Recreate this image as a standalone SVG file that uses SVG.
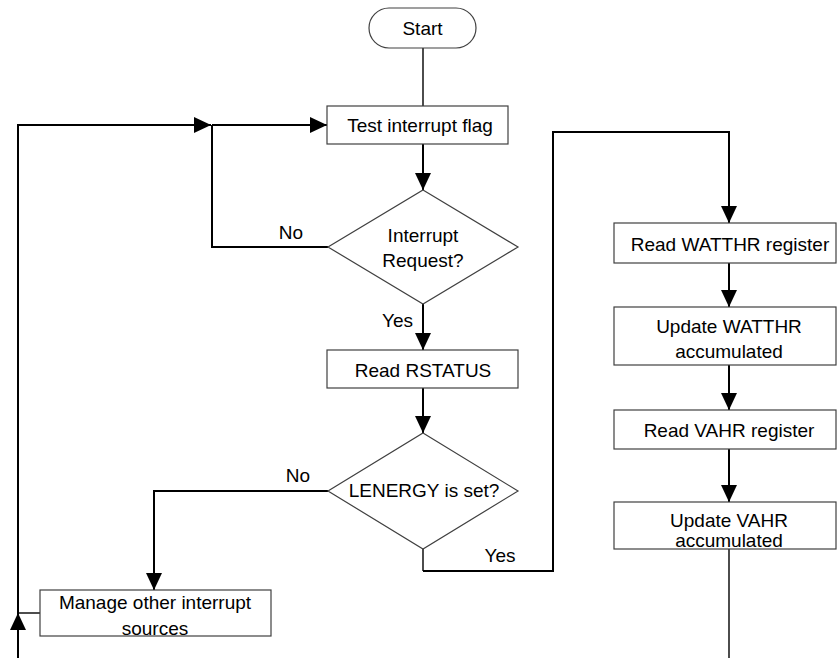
<svg xmlns="http://www.w3.org/2000/svg" width="837" height="658" viewBox="0 0 837 658">
<style>
.box{fill:#fff;stroke:#404040;stroke-width:1.2}
.t{font-family:"Liberation Sans",Arial,sans-serif;font-size:19px;fill:#000;text-anchor:middle}
.lbl{font-family:"Liberation Sans",Arial,sans-serif;font-size:19px;fill:#000}
.c{fill:none;stroke:#000;stroke-width:2}
.thin{fill:none;stroke:#000;stroke-width:1.4}
</style>
<defs>
<marker id="ah" markerUnits="userSpaceOnUse" markerWidth="18" markerHeight="18" viewBox="0 0 18 18" refX="17" refY="8" orient="auto">
<path d="M0,0 L17,8 L0,16 Z" fill="#000"/>
</marker>
</defs>
<rect width="837" height="658" fill="#fff"/>
<g id="connectors">
<path class="thin" d="M423,48 V106"/>
<path class="c" d="M423,144 V190" marker-end="url(#ah)"/>
<path class="c" d="M328,247 H212 V125"/>
<path class="c" d="M18,658 V613" marker-end="url(#ah)"/>
<path class="c" d="M18,613 V125 H211" marker-end="url(#ah)"/>
<path class="c" d="M212,125 H327" marker-end="url(#ah)"/>
<path class="thin" d="M40,613 H18"/>
<path class="c" d="M423,304 V350" marker-end="url(#ah)"/>
<path class="c" d="M423,388 V433" marker-end="url(#ah)"/>
<path class="c" d="M328,491 H154 V590" marker-end="url(#ah)"/>
<path class="thin" d="M423,549 V571"/>
<path class="c" d="M423,571 H553 V132 H729 V223" marker-end="url(#ah)"/>
<path class="c" d="M729,263 V307" marker-end="url(#ah)"/>
<path class="c" d="M729,365 V410" marker-end="url(#ah)"/>
<path class="c" d="M729,449 V502" marker-end="url(#ah)"/>
<path class="thin" d="M729,549 V658"/>
<text class="lbl" x="303" y="239" text-anchor="end">No</text>
<text class="lbl" x="413" y="327" text-anchor="end">Yes</text>
<text class="lbl" x="310" y="482" text-anchor="end">No</text>
<text class="lbl" x="500" y="562" text-anchor="middle">Yes</text>
</g>
<g id="start">
<rect class="box" x="369" y="8" width="107" height="40" rx="20" ry="20"/>
<text class="t" x="422.5" y="35">Start</text>
</g>
<g id="test-flag">
<rect class="box" x="327" y="106" width="181" height="38"/>
<text class="t" x="420" y="132">Test interrupt flag</text>
</g>
<g id="interrupt-request">
<polygon class="box" points="423,190 518,247 423,304 328,247"/>
<text class="t" x="423" y="242">Interrupt</text>
<text class="t" x="423" y="267">Request?</text>
</g>
<g id="read-rstatus">
<rect class="box" x="327" y="350" width="191" height="38"/>
<text class="t" x="423" y="377">Read RSTATUS</text>
</g>
<g id="lenergy">
<polygon class="box" points="423,433 518,491 423,549 328,491"/>
<text class="t" x="424" y="497">LENERGY is set?</text>
</g>
<g id="manage-other">
<rect class="box" x="40" y="590" width="231" height="46"/>
<text class="t" x="155" y="609">Manage other interrupt</text>
<text class="t" x="155" y="635">sources</text>
</g>
<g id="read-watthr">
<rect class="box" x="614" y="223" width="222" height="40"/>
<text class="t" x="730" y="251">Read WATTHR register</text>
</g>
<g id="update-watthr">
<rect class="box" x="614" y="307" width="222" height="58"/>
<text class="t" x="729" y="333">Update WATTHR</text>
<text class="t" x="729" y="358">accumulated</text>
</g>
<g id="read-vahr">
<rect class="box" x="614" y="410" width="222" height="39"/>
<text class="t" x="729" y="437">Read VAHR register</text>
</g>
<g id="update-vahr">
<rect class="box" x="614" y="502" width="222" height="47"/>
<text class="t" x="729" y="527">Update VAHR</text>
<text class="t" x="729" y="547">accumulated</text>
</g>
</svg>
